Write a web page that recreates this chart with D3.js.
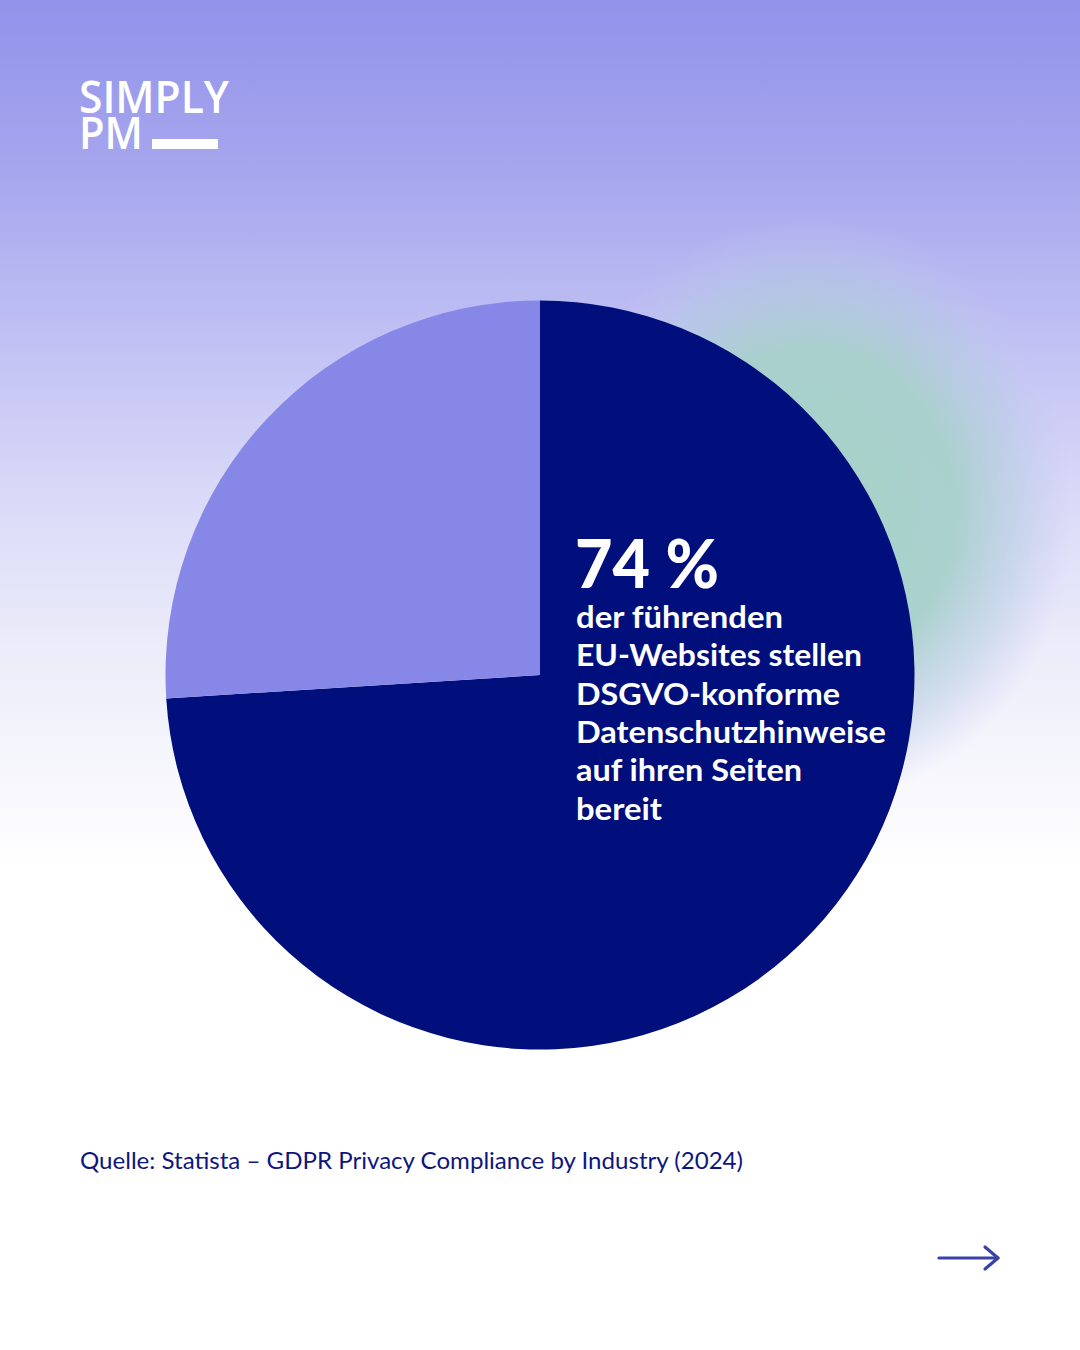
<!DOCTYPE html>
<html>
<head>
<meta charset="utf-8">
<script src="https://cdn.jsdelivr.net/npm/d3@7"></script>
<style>
html,body{margin:0;padding:0;background:#fff;}
svg{display:block;}
</style>
</head>
<body>
<div id="chart"></div>
<script>
// ---- data ----
const categories = ["Mit DSGVO-konformen Datenschutzhinweisen", "Ohne"];
const shareValues = [74, 26];
const sliceColors = ["#000f7c", "#8787e8"];
const headline = "74 %";
const captionLines = ["der führenden", "EU-Websites stellen", "DSGVO-konforme", "Datenschutzhinweise", "auf ihren Seiten", "bereit"];
const sourceText = "Quelle: Statista – GDPR Privacy Compliance by Industry (2024)";
const logoLines = ["SIMPLY", "PM"];

const W = 1080, H = 1350;
const svg = d3.select("#chart").append("svg").attr("width", W).attr("height", H);
const defs = svg.append("defs");

// background gradient
const bg = defs.append("linearGradient").attr("id", "bg")
  .attr("gradientUnits", "userSpaceOnUse").attr("x1", 0).attr("y1", 0).attr("x2", 0).attr("y2", H);
[[0, "#9292ea"], [170, "#a6a6ee"], [330, "#bfbff4"], [500, "#dadaf8"], [650, "#ececfa"], [870, "#ffffff"], [1350, "#ffffff"]]
  .forEach(([y, c]) => bg.append("stop").attr("offset", y / H).attr("stop-color", c));
svg.append("rect").attr("width", W).attr("height", H).attr("fill", "url(#bg)");

// teal glow
const glow = defs.append("radialGradient").attr("id", "glow");
glow.append("stop").attr("offset", 0).attr("stop-color", "#a6d2c8").attr("stop-opacity", 1);
glow.append("stop").attr("offset", 0.55).attr("stop-color", "#a8d0cb").attr("stop-opacity", 0.95);
glow.append("stop").attr("offset", 0.8).attr("stop-color", "#b4cce0").attr("stop-opacity", 0.5);
glow.append("stop").attr("offset", 1).attr("stop-color", "#c8c8f0").attr("stop-opacity", 0);
svg.append("ellipse").attr("cx", 810).attr("cy", 510).attr("rx", 265).attr("ry", 295).attr("fill", "url(#glow)");

// pie
const cx = 540, cy = 675, R = 374.5;
const pie = d3.pie().sort(null).value(d => d)(shareValues);
const arc = d3.arc().innerRadius(0).outerRadius(R);
svg.append("g").attr("transform", `translate(${cx},${cy})`)
  .selectAll("path").data(pie).join("path")
  .attr("d", arc).attr("fill", (d, i) => sliceColors[i]);

// headline
svg.append("text").attr("x", 575).attr("y", 588).text(headline)
  .attr("font-family", "Lato").attr("font-weight", 900).attr("font-size", 66).attr("fill", "#fff")
  .attr("textLength", 144).attr("lengthAdjust", "spacingAndGlyphs");

const capWidths = [207, 286, 264, 310, 226, 86];
captionLines.forEach((t, i) => {
  svg.append("text").attr("x", 576).attr("y", 628 + i * 38.3).text(t)
    .attr("font-family", "Lato").attr("font-weight", 700).attr("font-size", 31).attr("fill", "#fff")
    .attr("textLength", capWidths[i]).attr("lengthAdjust", "spacingAndGlyphs");
});

// logo
svg.append("text").attr("x", 79).attr("y", 113).text(logoLines[0])
  .attr("font-family", "Open Sans").attr("font-weight", 600).attr("font-size", 46).attr("fill", "#fff")
  .attr("textLength", 150).attr("lengthAdjust", "spacingAndGlyphs");
svg.append("text").attr("x", 79).attr("y", 149).text(logoLines[1])
  .attr("font-family", "Open Sans").attr("font-weight", 600).attr("font-size", 46).attr("fill", "#fff")
  .attr("textLength", 64).attr("lengthAdjust", "spacingAndGlyphs");
svg.append("rect").attr("x", 152).attr("y", 139).attr("width", 66).attr("height", 10).attr("fill", "#fff");

// source
svg.append("text").attr("x", 80).attr("y", 1169).text(sourceText)
  .attr("font-family", "Lato").attr("font-weight", 400).attr("font-size", 22.5).attr("fill", "#0d1680")
  .attr("textLength", 663).attr("lengthAdjust", "spacingAndGlyphs");

// arrow
const ag = svg.append("g").attr("stroke", "#3a42a6").attr("stroke-width", 3.2).attr("fill", "none").attr("stroke-linecap", "round").attr("stroke-linejoin", "round");
ag.append("line").attr("x1", 939).attr("y1", 1258).attr("x2", 998).attr("y2", 1258);
ag.append("polyline").attr("points", "985,1247 998,1258 985,1269");
</script>
</body>
</html>
